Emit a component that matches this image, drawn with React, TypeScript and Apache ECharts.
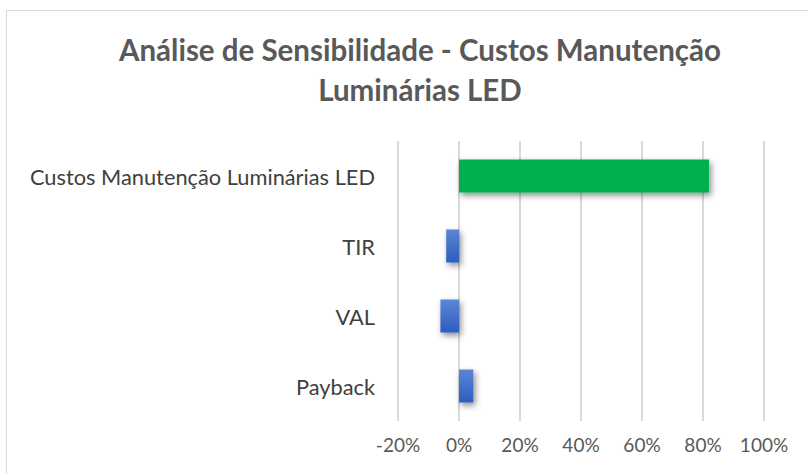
import React, { useEffect, useRef } from "react";
import * as echarts from "echarts";

const categories = ["Custos Manutenção Luminárias LED", "TIR", "VAL", "Payback"];
const values = [82, -4.2, -6.1, 4.7];
const barColors = ["green", "blue", "blue", "blue"];
const xTicks = [-20, 0, 20, 40, 60, 80, 100];

const FONT = "Lato";

export default function App() {
  const ref = useRef<HTMLDivElement>(null);
  useEffect(() => {
    if (!ref.current) return;
    const chart = echarts.init(ref.current, undefined, { renderer: "svg" });
    const blue = new echarts.graphic.LinearGradient(0, 0, 0, 1, [
      { offset: 0, color: "#5b86d4" },
      { offset: 1, color: "#2c5dbf" },
    ]);
    chart.setOption({
      animation: false,
      backgroundColor: "#ffffff",
      title: {
        text: "Análise de Sensibilidade - Custos Manutenção\nLuminárias LED",
        left: 415,
        top: 24,
        textAlign: "center",
        textStyle: {
          fontFamily: FONT,
          fontWeight: "bold",
          fontSize: 29.5,
          color: "#595959",
          lineHeight: 40,
        },
      },
      graphic: [
        {
          type: "rect",
          shape: { x: 6.5, y: 10.5, width: 820, height: 480 },
          style: { fill: "none", stroke: "#d9d9d9", lineWidth: 1 },
          silent: true,
        },
      ],
      grid: { left: 398, right: 44, top: 141, bottom: 53 },
      xAxis: {
        type: "value",
        min: -20,
        max: 100,
        interval: 20,
        axisLine: { show: false },
        axisTick: { show: false },
        splitLine: { show: true, lineStyle: { color: "#d9d9d9", width: 2 } },
        axisLabel: {
          fontFamily: FONT,
          fontSize: 19,
          color: "#595959",
          margin: 14,
          formatter: (v: number) => (xTicks.includes(v) ? v + "%" : ""),
        },
      },
      yAxis: {
        type: "category",
        data: categories,
        inverse: true,
        axisLine: { show: false, onZero: false },
        axisTick: { show: false },
        splitLine: { show: false },
        axisLabel: {
          fontFamily: FONT,
          fontSize: 21.8,
          color: "#404040",
          margin: 23,
        },
      },
      series: [
        {
          type: "bar",
          barWidth: 33,
          data: values.map((v, i) => ({
            value: v,
            itemStyle: {
              color: barColors[i] === "green" ? "#00b050" : blue,
              shadowBlur: 6,
              shadowColor: "rgba(0,0,0,0.45)",
              shadowOffsetX: 2,
              shadowOffsetY: 3,
            },
          })),
        },
      ],
    });
    return () => chart.dispose();
  }, []);
  return (
    <div
      ref={ref}
      style={{ position: "absolute", left: 0, top: 0, width: 808, height: 474 }}
    />
  );
}
